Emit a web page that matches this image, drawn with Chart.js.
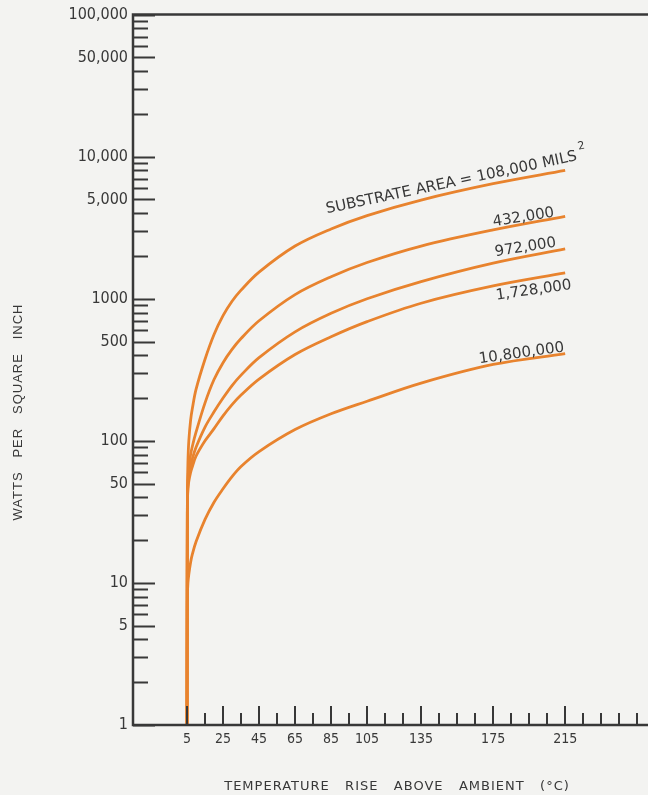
<!DOCTYPE html>
<html>
<head>
<meta charset="utf-8">
<script src="https://cdn.jsdelivr.net/npm/chart.js"></script>
<style>
  html, body { margin: 0; padding: 0; background: #f3f3f1; }
  #wrap { width: 648px; height: 795px; position: relative; }
</style>
</head>
<body>
<div id="wrap"><canvas id="chart"></canvas></div>
<script>
const tempRise = [5, 5.2, 5.5, 6, 7, 8, 10, 15, 20, 25, 30, 35, 45, 65, 85, 105, 135, 175, 215];

// watts per square inch, one list per substrate area (mils²)
const area108k = [1, 40, 70, 100, 140, 170, 230, 375, 560, 760, 960, 1150, 1540, 2350, 3100, 3850, 4950, 6450, 8000];
const area432k = [1, 38, 52, 65, 80, 92, 115, 185, 270, 355, 440, 525, 700, 1070, 1430, 1800, 2350, 3050, 3800];
const area972k = [1, 36, 48, 56, 66, 75, 90, 125, 160, 200, 245, 290, 385, 585, 790, 1000, 1320, 1780, 2240];
const area1728k = [1, 35, 46, 52, 60, 66, 78, 100, 122, 150, 180, 210, 272, 405, 540, 690, 930, 1230, 1520];
const area10800k = [1, 8, 10, 11.5, 14, 16, 19.5, 28, 37, 46, 56, 66, 84, 120, 155, 190, 255, 345, 411];

const curveNames = ['SUBSTRATE AREA = 108,000 MILS', '432,000', '972,000', '1,728,000', '10,800,000'];

// axis ticks
const xTicks = [5, 15, 25, 35, 45, 55, 65, 75, 85, 95, 105, 115, 125, 135, 145, 155, 165, 175, 185, 195, 205, 215, 225, 235, 245, 255];
const xTickLabels = [5, 25, 45, 65, 85, 105, 135, 175, 215];
const yTickLabels = { 1: '1', 5: '5', 10: '10', 50: '50', 100: '100', 500: '500', 1000: '1000',
  5000: '5,000', 10000: '10,000', 50000: '50,000', 100000: '100,000' };

const ORANGE = '#e8832e';
const INK = '#383838';

function toPoints(vals) {
  return vals.map((v, i) => ({ x: tempRise[i], y: v }));
}

const yTicks = [];
for (let d = 1; d < 100000; d *= 10) {
  for (let m = 1; m < 10; m++) yTicks.push(m * d);
}
yTicks.push(100000);

// label placement along each curve (data coords + angle)
const labelSpots = [
  { x: 82.8, y: 3990, angle: -12, align: 'left', size: 15 },
  { x: 192.2, y: 3500, angle: -9, align: 'center', size: 15 },
  { x: 193.3, y: 2155, angle: -9, align: 'center', size: 15 },
  { x: 197.8, y: 1074, angle: -8, align: 'center', size: 15 },
  { x: 191.1, y: 387, angle: -8, align: 'center', size: 15 }
];

const decorations = {
  id: 'decorations',
  afterDraw(chart) {
    const ctx = chart.ctx;
    const xs = chart.scales.x, ys = chart.scales.y;
    const left = xs.getPixelForValue(xs.min);
    const top = ys.getPixelForValue(ys.max);
    const bottom = ys.getPixelForValue(ys.min);
    ctx.save();

    // frame: left axis, bottom axis, top line
    ctx.strokeStyle = INK;
    ctx.lineWidth = 2.5;
    ctx.beginPath();
    ctx.moveTo(chart.width, top);
    ctx.lineTo(left, top);
    ctx.lineTo(left, bottom);
    ctx.lineTo(chart.width, bottom);
    ctx.stroke();

    // inward tick marks
    ctx.lineWidth = 2;
    ctx.beginPath();
    yTicks.forEach(v => {
      const lead = Math.round(v / Math.pow(10, Math.floor(Math.log10(v) + 1e-9)));
      const len = (lead === 1 || lead === 5) ? 22 : 15;
      const py = Math.round(ys.getPixelForValue(v)) + 0.5;
      ctx.moveTo(left, py);
      ctx.lineTo(left + len, py);
    });
    xTicks.forEach(v => {
      const len = xTickLabels.includes(v) ? 19 : 12;
      const px = Math.round(xs.getPixelForValue(v));
      ctx.moveTo(px, bottom);
      ctx.lineTo(px, bottom - len);
    });
    ctx.stroke();

    // axis titles
    ctx.fillStyle = INK;
    ctx.font = '13px "Liberation Sans", Arial, sans-serif';
    ctx.textAlign = 'center';
    ctx.textBaseline = 'middle';
    ctx.letterSpacing = '1px';
    ctx.save();
    ctx.translate(18, 412);
    ctx.rotate(-Math.PI / 2);
    ctx.fillText('WATTS   PER   SQUARE   INCH', 0, 0);
    ctx.restore();
    ctx.font = '13px "DejaVu Sans", sans-serif';
    ctx.fillText('TEMPERATURE   RISE   ABOVE   AMBIENT   (°C)', 397, 787);

    // curve labels
    ctx.letterSpacing = '0px';
    ctx.textBaseline = 'alphabetic';
    labelSpots.forEach((s, i) => {
      ctx.save();
      ctx.translate(xs.getPixelForValue(s.x), ys.getPixelForValue(s.y));
      ctx.rotate(s.angle * Math.PI / 180);
      ctx.font = s.size + 'px "DejaVu Sans", sans-serif';
      ctx.textAlign = s.align;
      ctx.fillText(curveNames[i], 0, 0);
      if (i === 0) {
        const w = ctx.measureText(curveNames[i]).width;
        ctx.font = '11px "DejaVu Sans", sans-serif';
        ctx.textAlign = 'left';
        ctx.fillText('2', w + 3, -10);
      }
      ctx.restore();
    });

    ctx.restore();
  }
};

const series = [area108k, area432k, area972k, area1728k, area10800k];

new Chart(document.getElementById('chart').getContext('2d'), {
  type: 'line',
  data: {
    datasets: series.map((vals, i) => ({
      label: curveNames[i],
      data: toPoints(vals),
      borderColor: ORANGE,
      borderWidth: 2.8,
      pointRadius: 0,
      fill: false,
      tension: 0.35
    }))
  },
  options: {
    responsive: true,
    maintainAspectRatio: false,
    animation: false,
    layout: { padding: { top: 14, right: 0, left: 0, bottom: 0 } },
    plugins: { legend: { display: false }, tooltip: { enabled: false } },
    scales: {
      x: {
        type: 'linear',
        min: -25,
        max: 261,
        afterBuildTicks: axis => { axis.ticks = xTicks.map(v => ({ value: v })); },
        afterFit: scale => { scale.height = 70; },
        grid: { display: false, drawTicks: false },
        border: { display: false },
        ticks: {
          autoSkip: false,
          maxRotation: 0,
          padding: 6,
          color: INK,
          font: { family: '"DejaVu Sans Condensed", "DejaVu Sans", sans-serif', size: 14 },
          callback: v => xTickLabels.includes(v) ? String(v) : ''
        }
      },
      y: {
        type: 'logarithmic',
        min: 1,
        max: 100000,
        afterBuildTicks: axis => { axis.ticks = yTicks.map(v => ({ value: v })); },
        afterFit: scale => { scale.width = 133; },
        grid: { display: false, drawTicks: false },
        border: { display: false },
        ticks: {
          autoSkip: false,
          padding: 5,
          color: INK,
          font: { family: '"DejaVu Sans Condensed", "DejaVu Sans", sans-serif', size: 16 },
          callback: v => yTickLabels[v] || ''
        }
      }
    }
  },
  plugins: [decorations]
});
</script>
</body>
</html>
